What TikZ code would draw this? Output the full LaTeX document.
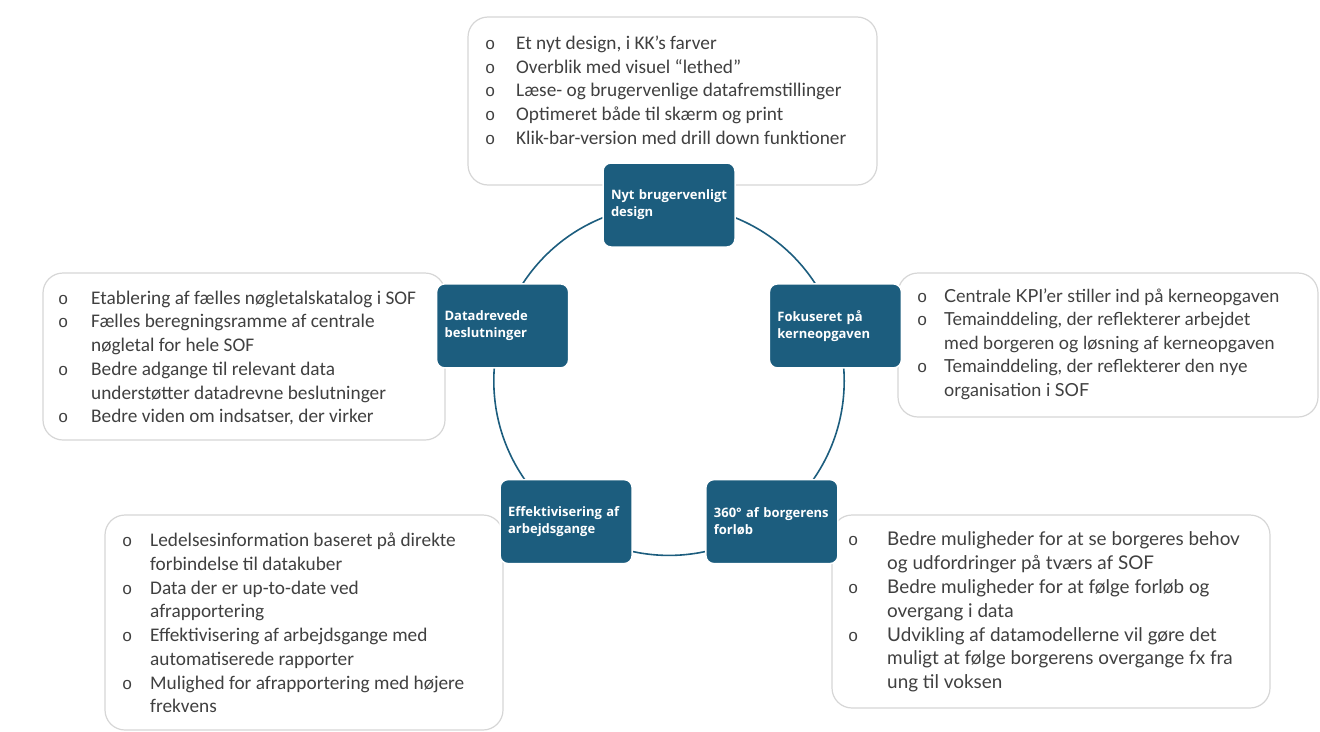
\documentclass[tikz,border=0pt]{standalone}
\usepackage{fontspec}
\setmainfont{Carlito}
\newfontfamily\aptos{Lato}
\newfontfamily\hubfont{Open Sans}
\newfontfamily\bulfont{Liberation Mono}
\usepackage{tikz}
\usetikzlibrary{calc,backgrounds}
\definecolor{hubblue}{HTML}{1C5D7E}
\definecolor{boxgray}{HTML}{D6D6D6}
\definecolor{txtgray}{HTML}{404040}
\newcommand{\hubcolor}{hubblue}
\newcommand{\ringwidth}{1.6pt}
\newlength{\bulw}
\newcommand{\pkt}{\makebox[\bulw][l]{\bulfont\fontsize{17}{17}\selectfont o}}
\newcommand{\fort}{\hspace*{\bulw}}

\begin{document}
\begin{tikzpicture}[x=1pt, y=-1pt,
  hub/.style={fill=\hubcolor, draw=white, line width=1.5pt, rounded corners=8pt,
    minimum height=84pt, text width=116pt, inner xsep=8pt, inner ysep=0pt,
    align=left, text=white, font=\hubfont\bfseries\fontsize{13}{17}\selectfont},
  infobox/.style={draw=boxgray, fill=white, line width=1.2pt, rounded corners=20pt},
  itemlist/.style={anchor=west, align=left, inner sep=0pt, text=txtgray,
    font=\fontsize{19.3}{23.7}\selectfont, execute at begin node={\setlength{\bulw}{#1}}},
  rightlist/.style={itemlist=#1, font=\aptos\fontsize{18}{23.5}\selectfont},
  ring/.style={draw=\hubcolor, line width=\ringwidth}]
\useasboundingbox (0,0) rectangle (1320,731);
%boxes
\node[infobox, minimum width=409pt, minimum height=168pt] (designbox) at (672.5, 101) {};
\node[infobox, minimum width=402pt, minimum height=167pt] (databox) at (244, 356.5) {};
\node[infobox, minimum width=420pt, minimum height=144pt] (kernebox) at (1108, 345) {};
\node[infobox, minimum width=398pt, minimum height=215pt] (effektbox) at (304, 622.5) {};
\node[infobox, minimum width=438pt, minimum height=193pt] (forloebbox) at (1051, 611.5) {};
%lists
\node[itemlist=31pt] (designlist) at (485, 90) {\pkt Et nyt design, i KK’s farver\\
  \pkt Overblik med visuel “lethed”\\
  \pkt Læse- og brugervenlige datafremstillinger\\
  \pkt Optimeret både til skærm og print\\
  \pkt Klik-bar-version med drill down funktioner};
\node[itemlist=33pt] (datalist) at (58, 358) {\pkt Etablering af fælles nøgletalskatalog i SOF\\
  \pkt Fælles beregningsramme af centrale\\
  \fort nøgletal for hele SOF\\
  \pkt Bedre adgange til relevant data\\
  \fort understøtter datadrevne beslutninger\\
  \pkt Bedre viden om indsatser, der virker};
\node[rightlist=27pt] (kernelist) at (917, 344) {\pkt Centrale KPI’er stiller ind på kerneopgaven\\
  \pkt Temainddeling, der reflekterer arbejdet\\
  \fort med borgeren og løsning af kerneopgaven\\
  \pkt Temainddeling, der reflekterer den nye\\
  \fort organisation i SOF};
\node[itemlist=28pt] (effektlist) at (122, 623) {\pkt Ledelsesinformation baseret på direkte\\
  \fort forbindelse til datakuber\\
  \pkt Data der er up-to-date ved\\
  \fort afrapportering\\
  \pkt Effektivisering af arbejdsgange med\\
  \fort automatiserede rapporter\\
  \pkt Mulighed for afrapportering med højere\\
  \fort frekvens};
\node[rightlist=39pt, font=\aptos\fontsize{18.9}{23.8}\selectfont] (forloeblist) at (848, 612) {\pkt Bedre muligheder for at se borgeres behov\\
  \fort og udfordringer på tværs af SOF\\
  \pkt Bedre muligheder for at følge forløb og\\
  \fort overgang i data\\
  \pkt Udvikling af datamodellerne vil gøre det\\
  \fort muligt at følge borgerens overgange fx fra\\
  \fort ung til voksen};
%hubs
\node[hub] (design) at (669, 205) {\mbox{Nyt brugervenligt}\\design};
\node[hub] (data) at (502.6, 325.9) {Datadrevede\\beslutninger};
\node[hub] (kerne) at (835.4, 325.9) {Fokuseret på\\kerneopgaven};
\node[hub] (effekt) at (566.1, 521.6) {Effektivisering af\\arbejdsgange};
\node[hub] (forloeb) at (771.9, 521.6) {360° af borgerens\\forløb};
%ring
\begin{scope}[on background layer]
\draw[ring] plot[smooth cycle, tension=0.83] coordinates {(design.center) (data.center) (effekt.center) (forloeb.center) (kerne.center)};
\end{scope}
\end{tikzpicture}
\end{document}
